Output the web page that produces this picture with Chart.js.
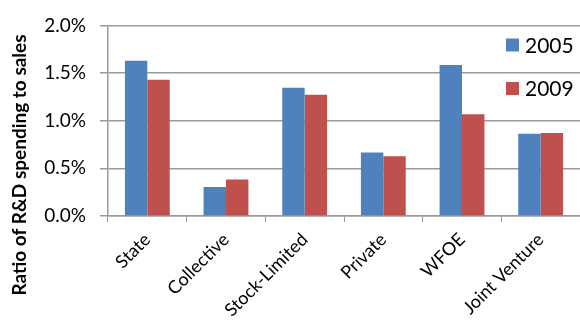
<!DOCTYPE html>
<html>
<head>
<meta charset="utf-8">
<script src="https://cdn.jsdelivr.net/npm/chart.js@4.4.1/dist/chart.umd.min.js"></script>
<style>
  html, body { margin: 0; padding: 0; background: #fff; }
</style>
</head>
<body>
<canvas id="rdChart" width="580" height="327"></canvas>
<script>
// R&D spending as a share of sales, by ownership type (percent)
const sectors = ["State", "Collective", "Stock-Limited", "Private", "WFOE", "Joint Venture"];
const years = ["2005", "2009"];
const ratio2005 = [1.63, 0.305, 1.345, 0.667, 1.585, 0.862];
const ratio2009 = [1.43, 0.384, 1.273, 0.626, 1.068, 0.87];
const yTicks = [0, 0.5, 1.0, 1.5, 2.0];
const axisTitle = "Ratio of R&D spending to sales";

const FONT = "Lato, 'Open Sans', sans-serif";
const GRID = "#9a9a9a";

// Legend drawn inside the plot, top right
const insideLegend = {
  id: "insideLegend",
  afterDraw(chart) {
    const ctx = chart.ctx;
    ctx.save();
    ctx.font = "21px " + FONT;
    ctx.textBaseline = "middle";
    chart.data.datasets.forEach((ds, i) => {
      const cy = 45 + i * 43.5;
      ctx.fillStyle = ds.backgroundColor;
      ctx.fillRect(506, cy - 6.5, 13, 13);
      ctx.fillStyle = "#000";
      ctx.fillText(ds.label, 525, cy + 1);
    });
    ctx.restore();
  },
};

// Vertical axis title
const yTitle = {
  id: "yTitle",
  afterDraw(chart) {
    const ctx = chart.ctx;
    ctx.save();
    ctx.translate(20, 165);
    ctx.rotate(-Math.PI / 2);
    ctx.font = "bold 19px " + FONT;
    ctx.fillStyle = "#000";
    ctx.textAlign = "center";
    ctx.textBaseline = "middle";
    ctx.fillText(axisTitle, 0, 0);
    ctx.restore();
  },
};

new Chart(document.getElementById("rdChart"), {
  type: "bar",
  data: {
    labels: sectors,
    datasets: [
      {
        label: years[0],
        data: ratio2005,
        backgroundColor: "#4f81bd",
        categoryPercentage: 0.57,
        barPercentage: 1,
      },
      {
        label: years[1],
        data: ratio2009,
        backgroundColor: "#c0504d",
        categoryPercentage: 0.57,
        barPercentage: 1,
      },
    ],
  },
  options: {
    responsive: false,
    animation: false,
    layout: { padding: { top: 22, right: 0, left: 0, bottom: 0 } },
    plugins: {
      legend: { display: false },
      tooltip: { enabled: false },
    },
    scales: {
      x: {
        grid: {
          display: true,
          drawOnChartArea: false,
          offset: true,
          tickLength: 6,
          color: GRID,
        },
        border: { color: GRID, width: 1.5 },
        ticks: {
          color: "#000",
          font: { family: FONT, size: 18 },
          minRotation: 45,
          maxRotation: 45,
          padding: 7,
        },
        afterFit(scale) {
          scale.height = 111;
        },
      },
      y: {
        min: 0,
        max: 2,
        afterBuildTicks(scale) {
          scale.ticks = yTicks.map((v) => ({ value: v }));
        },
        grid: { color: GRID, lineWidth: 1.5, tickLength: 8 },
        border: { color: GRID, width: 1.5 },
        ticks: {
          color: "#000",
          font: { family: FONT, size: 19 },
          padding: 14,
          callback: (v) => v.toFixed(1) + "%",
        },
        afterFit(scale) {
          scale.width = 108;
        },
      },
    },
  },
  plugins: [insideLegend, yTitle],
});
</script>
</body>
</html>
